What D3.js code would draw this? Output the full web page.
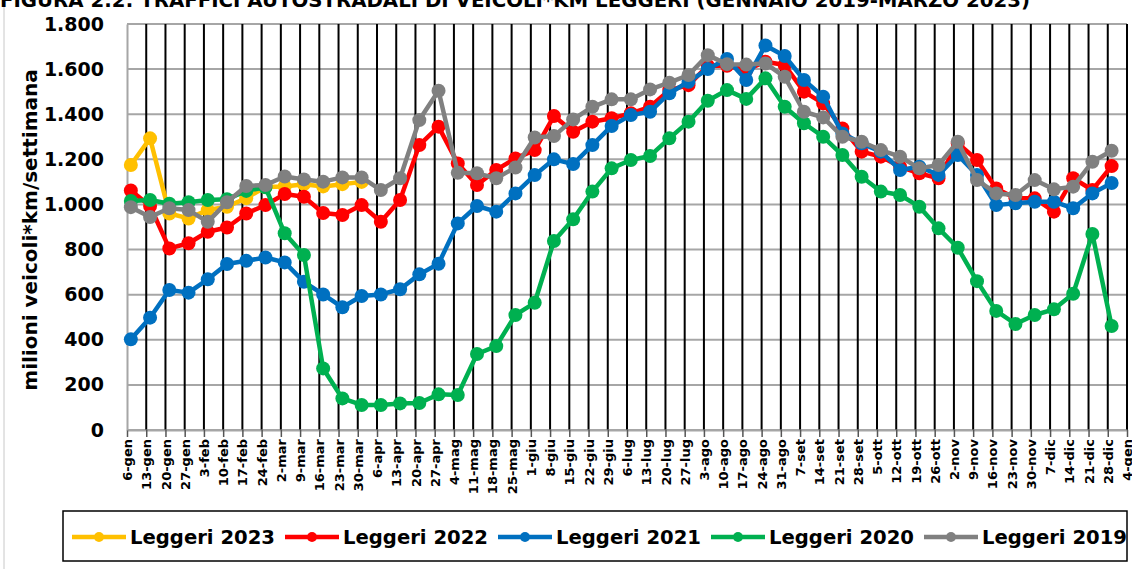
<!DOCTYPE html>
<html>
<head>
<meta charset="utf-8">
<script src="https://cdn.jsdelivr.net/npm/d3@7"></script>
<style>
  body { margin: 0; background: #fff; }
  svg { display: block; font-family: "DejaVu Sans", sans-serif; font-weight: bold; }
</style>
</head>
<body>
<svg id="chart" width="1132" height="569"></svg>
<script>
var weeks = ["6-gen","13-gen","20-gen","27-gen","3-feb","10-feb","17-feb","24-feb","2-mar","9-mar","16-mar","23-mar","30-mar",
  "6-apr","13-apr","20-apr","27-apr","4-mag","11-mag","18-mag","25-mag","1-giu","8-giu","15-giu","22-giu","29-giu",
  "6-lug","13-lug","20-lug","27-lug","3-ago","10-ago","17-ago","24-ago","31-ago","7-set","14-set","21-set","28-set",
  "5-ott","12-ott","19-ott","26-ott","2-nov","9-nov","16-nov","23-nov","30-nov","7-dic","14-dic","21-dic","28-dic","4-gen"];

var yTicks = [0, 200, 400, 600, 800, 1000, 1200, 1400, 1600, 1800];

var leggeri2023 = [1175,1293,960,938,975,990,1028,1077,1080,1090,1080,1090,1100];

var leggeri2022 = [1062,993,805,828,879,898,960,997,1046,1034,962,953,997,923,1020,1263,1345,1182,1086,1153,1204,1241,1392,1322,1367,1382,
  1404,1433,1507,1529,1615,1615,1596,1633,1618,1500,1448,1337,1234,1212,1167,1138,1116,1271,1197,1071,1027,1027,968,1116,1064,1170];

var leggeri2021 = [402,498,621,609,668,736,750,765,743,657,601,544,594,601,624,690,737,916,993,968,1049,1130,1200,1179,1263,1348,
  1396,1411,1493,1544,1600,1645,1552,1705,1658,1552,1478,1315,1271,1234,1153,1167,1131,1219,1131,997,1005,1012,1012,983,1049,1095];

var leggeri2020 = [1015,1020,1003,1010,1020,1023,1060,1076,872,776,273,140,111,111,118,120,158,155,337,372,510,564,838,934,1057,1160,
  1197,1215,1293,1367,1460,1507,1468,1559,1433,1360,1300,1219,1123,1057,1042,990,894,808,660,528,470,510,535,604,869,461];

var leggeri2019 = [988,944,983,975,923,1010,1082,1086,1124,1111,1101,1120,1120,1064,1116,1374,1504,1140,1138,1116,1164,1297,1303,1377,1433,1466,
  1466,1510,1540,1574,1662,1622,1620,1625,1566,1411,1386,1300,1278,1241,1212,1160,1175,1278,1108,1049,1042,1108,1067,1079,1189,1238];

var series = [
  { name: "Leggeri 2023", color: "#FFC000", values: leggeri2023 },
  { name: "Leggeri 2022", color: "#FF0000", values: leggeri2022 },
  { name: "Leggeri 2021", color: "#0070C0", values: leggeri2021 },
  { name: "Leggeri 2020", color: "#00B050", values: leggeri2020 },
  { name: "Leggeri 2019", color: "#808080", values: leggeri2019 }
];

var svg = d3.select("#chart");

var x = d3.scalePoint().domain(weeks).range([127, 1127]);
var y = d3.scaleLinear().domain([0, 1800]).range([430, 24]);
var shift = x.step() * 0.2;

var it = d3.formatLocale({ decimal: ",", thousands: ".", grouping: [3], currency: ["", "€"] });
var fmt = it.format(",");

// chart border (left)
svg.append("line")
  .attr("x1", 4).attr("x2", 4).attr("y1", 0).attr("y2", 569)
  .attr("stroke", "#c8c8c8").attr("stroke-width", 1);

// title, partly cut off
svg.append("text")
  .attr("x", 0).attr("y", 7)
  .attr("font-size", 20)
  .attr("textLength", 1030)
  .attr("lengthAdjust", "spacingAndGlyphs")
  .text("FIGURA 2.2: TRAFFICI AUTOSTRADALI DI VEICOLI*KM LEGGERI (GENNAIO 2019-MARZO 2023)");

// horizontal grid
svg.append("g")
  .selectAll("line")
  .data(yTicks)
  .enter().append("line")
  .attr("x1", 127).attr("x2", 1127)
  .attr("y1", function(d) { return y(d); })
  .attr("y2", function(d) { return y(d); })
  .attr("stroke", "#a6a6a6")
  .attr("stroke-width", 2);

// vertical black lines
svg.append("g")
  .selectAll("line")
  .data(weeks.slice(1))
  .enter().append("line")
  .attr("x1", function(d) { return x(d); })
  .attr("x2", function(d) { return x(d); })
  .attr("y1", y(1800)).attr("y2", y(0))
  .attr("stroke", "#000")
  .attr("stroke-width", 2);

// x axis
var xAxis = svg.append("g")
  .attr("transform", "translate(0," + y(0) + ")")
  .call(d3.axisBottom(x).tickSize(7).tickSizeOuter(0));
xAxis.select(".domain").attr("stroke", "#a6a6a6").attr("stroke-width", 2);
xAxis.selectAll(".tick line").attr("stroke", "#555").attr("stroke-width", 1.5);
xAxis.selectAll(".tick text")
  .attr("font-size", 13)
  .attr("font-weight", "bold")
  .attr("font-family", "DejaVu Sans")
  .attr("fill", "#000")
  .attr("text-anchor", "end")
  .attr("transform", "rotate(-90)")
  .attr("x", -9)
  .attr("y", 0)
  .attr("dy", "0.35em");

// y axis
var yAxis = svg.append("g")
  .attr("transform", "translate(127,0)")
  .call(d3.axisLeft(y).tickValues(yTicks).tickFormat(fmt).tickSize(0).tickPadding(23));
yAxis.select(".domain").attr("stroke", "#a6a6a6").attr("stroke-width", 2);
yAxis.selectAll(".tick text")
  .attr("font-size", 19)
  .attr("font-weight", "bold")
  .attr("font-family", "DejaVu Sans")
  .attr("fill", "#000");

svg.append("text")
  .attr("transform", "translate(37,230) rotate(-90)")
  .attr("text-anchor", "middle")
  .attr("font-size", 20)
  .text("milioni veicoli*km/settimana");

// series
var line = d3.line()
  .x(function(d, i) { return x(weeks[i]) + shift; })
  .y(function(d) { return y(d); });

series.forEach(function(s) {
  var g = svg.append("g");
  g.append("path")
    .attr("d", line(s.values))
    .attr("fill", "none")
    .attr("stroke", s.color)
    .attr("stroke-width", 4.5)
    .attr("stroke-linejoin", "round");
  g.selectAll("circle")
    .data(s.values)
    .enter().append("circle")
    .attr("cx", function(d, i) { return x(weeks[i]) + shift; })
    .attr("cy", function(d) { return y(d); })
    .attr("r", 7)
    .attr("fill", s.color);
});

// legend
svg.append("rect")
  .attr("x", 63).attr("y", 511)
  .attr("width", 1064).attr("height", 50)
  .attr("fill", "#fff")
  .attr("stroke", "#000")
  .attr("stroke-width", 1.5);

var legendX = [72, 285, 498, 711, 924];
var leg = svg.append("g")
  .selectAll("g")
  .data(series)
  .enter().append("g")
  .attr("transform", function(d, i) { return "translate(" + legendX[i] + ",537)"; });
leg.append("line")
  .attr("x1", 0).attr("x2", 54)
  .attr("stroke", function(d) { return d.color; })
  .attr("stroke-width", 4.5);
leg.append("circle")
  .attr("cx", 27).attr("r", 5)
  .attr("fill", function(d) { return d.color; });
leg.append("text")
  .attr("x", 58)
  .attr("dy", "0.36em")
  .attr("font-size", 19.5)
  .attr("textLength", 145)
  .attr("lengthAdjust", "spacingAndGlyphs")
  .text(function(d) { return d.name; });
</script>
</body>
</html>
